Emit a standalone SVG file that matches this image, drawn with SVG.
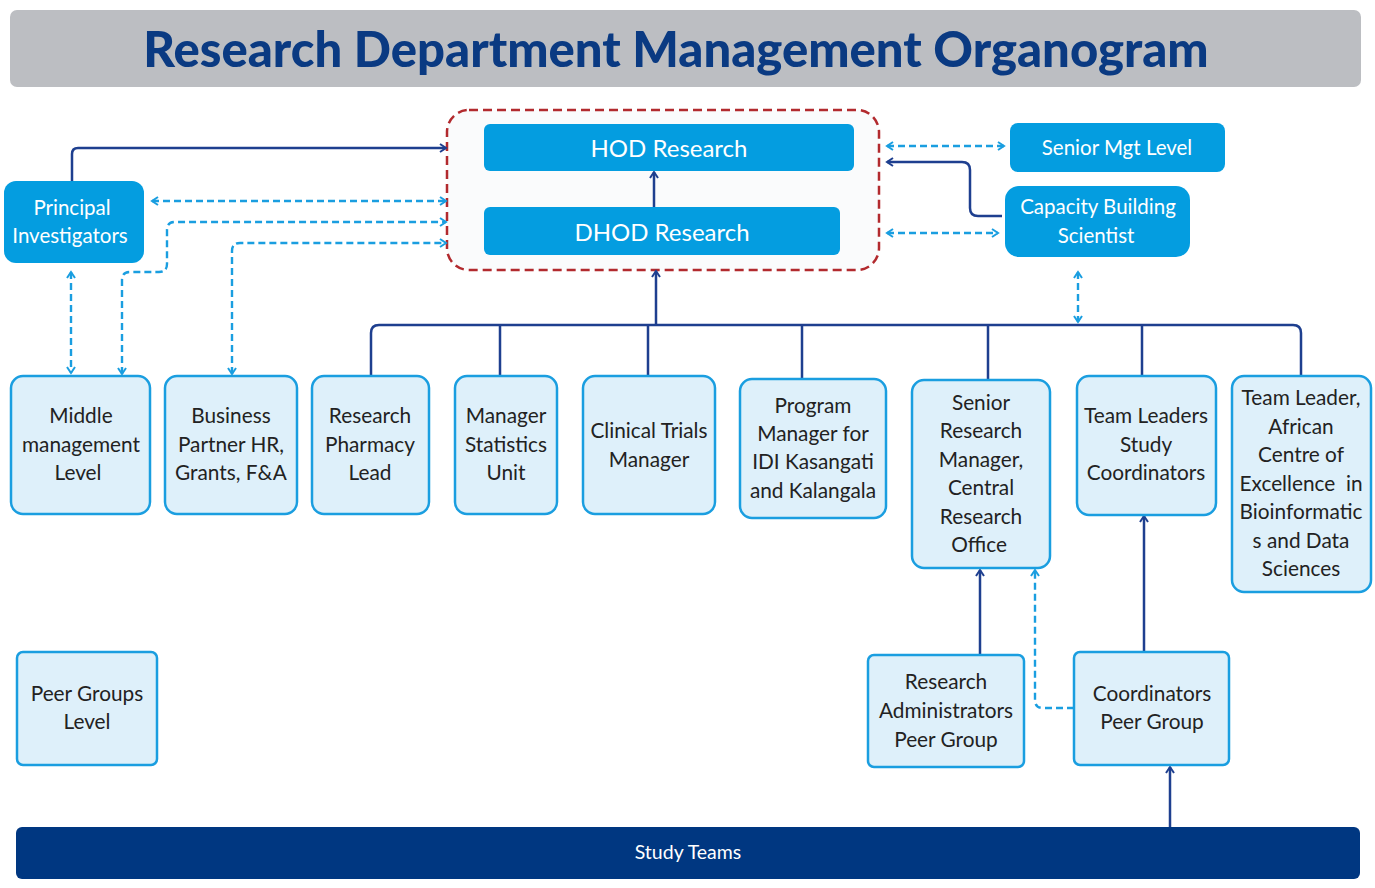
<svg xmlns="http://www.w3.org/2000/svg" width="1375" height="888" viewBox="0 0 1375 888">
<defs>
<marker id="an" viewBox="0 0 10 10" refX="8" refY="5" markerWidth="10" markerHeight="10" markerUnits="userSpaceOnUse" orient="auto-start-reverse"><path d="M2,1 L8,5 L2,9" fill="none" stroke="#1e3f8f" stroke-width="2"/></marker>
<marker id="ab" viewBox="0 0 10 10" refX="8" refY="5" markerWidth="10" markerHeight="10" markerUnits="userSpaceOnUse" orient="auto-start-reverse"><path d="M2,1 L8,5 L2,9" fill="none" stroke="#1a9ee0" stroke-width="2"/></marker>
<style>
.t{font-family:Lato,"Liberation Sans",sans-serif;}
.lb{fill:#def0fa;stroke:#1a9ee0;stroke-width:2.5;}
.db{fill:#049de0;}
.bt{font-size:20.8px;fill:#222;text-anchor:middle;}
.wt{fill:#fff;text-anchor:middle;}
.sol{fill:none;stroke:#1e3f8f;stroke-width:2.5;}
.das{fill:none;stroke:#1a9ee0;stroke-width:2.4;stroke-dasharray:7 4;}
</style>
</defs>
<rect width="1375" height="888" fill="#fff"/>
<g id="title">
<rect x="10" y="10" width="1351" height="77" rx="7" fill="#bcbec2"/>
<text class="t" x="676" y="67" font-size="49" font-weight="900" fill="#0a3a82" text-anchor="middle">Research Department Management Organogram</text>
</g>
<g id="frame"><rect x="447" y="110" width="432" height="160" rx="22" fill="#fafbfc" stroke="#b22a2e" stroke-width="2.5" stroke-dasharray="9 5"/></g>
<g id="connectors">
<path class="sol" d="M72,181 V154 Q72,148 78,148 H446" marker-end="url(#an)"/>
<path class="das" d="M152,201 H446" marker-start="url(#ab)" marker-end="url(#ab)"/>
<path class="das" d="M122,374 V280 Q122,272 130,272 H159 Q167,272 167,264 V230 Q167,222 175,222 H446" marker-start="url(#ab)" marker-end="url(#ab)"/>
<path class="das" d="M232,374 V251 Q232,243 240,243 H446" marker-start="url(#ab)" marker-end="url(#ab)"/>
<path class="das" d="M71,272 V373" marker-start="url(#ab)" marker-end="url(#ab)"/>
<path class="das" d="M887,146 H1004" marker-start="url(#ab)" marker-end="url(#ab)"/>
<path class="sol" d="M1002,216 H978 Q970,216 970,208 V170 Q970,162 962,162 H887" marker-end="url(#an)"/>
<path class="das" d="M887,233 H998" marker-start="url(#ab)" marker-end="url(#ab)"/>
<path class="das" d="M1078,272 V322" marker-start="url(#ab)" marker-end="url(#ab)"/>
<path class="sol" d="M371,375 V333 Q371,325 379,325 H1293 Q1301,325 1301,333 V375"/>
<path class="sol" d="M500,325 V375 M648,325 V375 M802,325 V378 M988,325 V380 M1142,325 V375"/>
<path class="sol" d="M656,325 V271" marker-end="url(#an)"/>
<path class="sol" d="M654,207 V172" marker-end="url(#an)"/>
<path class="sol" d="M980,655 V570" marker-end="url(#an)"/>
<path class="das" d="M1074,708 H1043 Q1035,708 1035,700 V570" marker-end="url(#ab)"/>
<path class="sol" d="M1144,652 V516" marker-end="url(#an)"/>
<path class="sol" d="M1170,827 V767" marker-end="url(#an)"/>
</g>
<g id="hod"><rect class="db" x="484" y="124" width="370" height="47" rx="6"/><text class="t wt" x="669" y="157" font-size="24">HOD Research</text></g>
<g id="dhod"><rect class="db" x="484" y="207" width="356" height="48" rx="6"/><text class="t wt" x="662" y="241" font-size="24">DHOD Research</text></g>
<g id="senior-mgt"><rect class="db" x="1010" y="123" width="215" height="49" rx="8"/><text class="t wt" x="1117" y="155" font-size="20.5">Senior Mgt Level</text></g>
<g id="capacity"><rect class="db" x="1005" y="186" width="185" height="71" rx="14"/><text class="t wt" font-size="20.5"><tspan x="1098" y="214">Capacity Building</tspan><tspan x="1096" y="243">Scientist</tspan></text></g>
<g id="pi"><rect class="db" x="4" y="181" width="140" height="82" rx="12"/><text class="t wt" font-size="20.5"><tspan x="72" y="215">Principal</tspan><tspan x="70" y="243">Investigators</tspan></text></g>
<g id="middle"><rect class="lb" x="11" y="376" width="139" height="138" rx="12"/><text class="t bt"><tspan x="81" y="423">Middle</tspan><tspan x="81" y="452">management</tspan><tspan x="78" y="480">Level</tspan></text></g>
<g id="business"><rect class="lb" x="165" y="376" width="132" height="138" rx="12"/><text class="t bt"><tspan x="231" y="423">Business</tspan><tspan x="231" y="452">Partner HR,</tspan><tspan x="231" y="480">Grants, F&amp;A</tspan></text></g>
<g id="pharmacy"><rect class="lb" x="312" y="376" width="117" height="138" rx="12"/><text class="t bt"><tspan x="370" y="423">Research</tspan><tspan x="370" y="452">Pharmacy</tspan><tspan x="370" y="480">Lead</tspan></text></g>
<g id="statistics"><rect class="lb" x="455" y="376" width="102" height="138" rx="12"/><text class="t bt"><tspan x="506" y="423">Manager</tspan><tspan x="506" y="452">Statistics</tspan><tspan x="506" y="480">Unit</tspan></text></g>
<g id="clinical"><rect class="lb" x="583" y="376" width="132" height="138" rx="12"/><text class="t bt"><tspan x="649" y="438">Clinical Trials</tspan><tspan x="649" y="467">Manager</tspan></text></g>
<g id="program"><rect class="lb" x="740" y="379" width="146" height="139" rx="12"/><text class="t bt"><tspan x="813" y="413">Program</tspan><tspan x="813" y="441">Manager for</tspan><tspan x="813" y="469">IDI Kasangati</tspan><tspan x="813" y="498">and Kalangala</tspan></text></g>
<g id="senior-research"><rect class="lb" x="912" y="380" width="138" height="188" rx="12"/><text class="t bt"><tspan x="981" y="410">Senior</tspan><tspan x="981" y="438">Research</tspan><tspan x="981" y="467">Manager,</tspan><tspan x="981" y="495">Central</tspan><tspan x="981" y="524">Research</tspan><tspan x="979" y="552">Office</tspan></text></g>
<g id="team-leaders"><rect class="lb" x="1077" y="376" width="139" height="139" rx="12"/><text class="t bt"><tspan x="1146" y="423">Team Leaders</tspan><tspan x="1146" y="452">Study</tspan><tspan x="1146" y="480">Coordinators</tspan></text></g>
<g id="team-leader-african"><rect class="lb" x="1232" y="376" width="139" height="216" rx="12"/><text class="t bt"><tspan x="1301" y="405">Team Leader,</tspan><tspan x="1301" y="434">African</tspan><tspan x="1301" y="462">Centre of</tspan><tspan x="1301" y="491" xml:space="preserve">Excellence  in</tspan><tspan x="1301" y="519">Bioinformatic</tspan><tspan x="1301" y="548">s and Data</tspan><tspan x="1301" y="576">Sciences</tspan></text></g>
<g id="peer-groups"><rect class="lb" x="17" y="652" width="140" height="113" rx="6"/><text class="t bt"><tspan x="87" y="701">Peer Groups</tspan><tspan x="87" y="729">Level</tspan></text></g>
<g id="research-admin"><rect class="lb" x="868" y="655" width="156" height="112" rx="6"/><text class="t bt"><tspan x="946" y="689">Research</tspan><tspan x="946" y="718">Administrators</tspan><tspan x="946" y="747">Peer Group</tspan></text></g>
<g id="coordinators"><rect class="lb" x="1074" y="652" width="155" height="113" rx="6"/><text class="t bt"><tspan x="1152" y="701">Coordinators</tspan><tspan x="1152" y="729">Peer Group</tspan></text></g>
<g id="study-teams"><rect x="16" y="827" width="1344" height="52" rx="6" fill="#003781"/><text class="t wt" x="688" y="859" font-size="19.5">Study Teams</text></g>
</svg>
